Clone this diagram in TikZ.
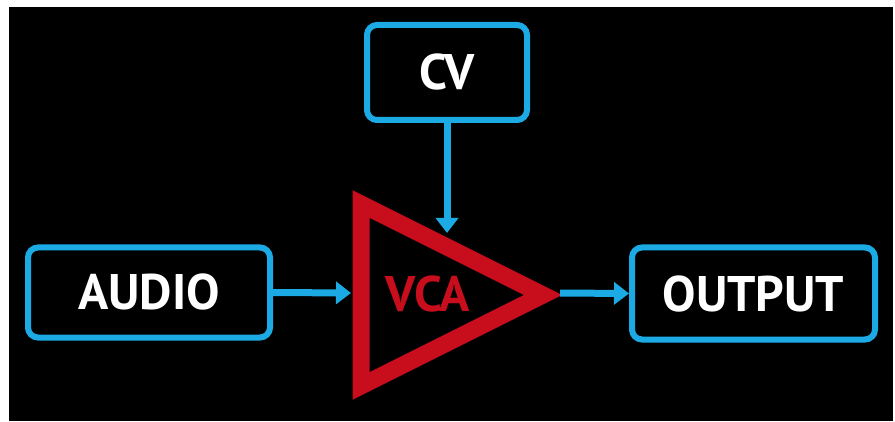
\documentclass[tikz,border=0pt]{standalone}
\usepackage{fontspec}
\usetikzlibrary{arrows.meta}
\newfontfamily\blockfont{PT Sans}

\definecolor{boxBlue}{RGB}{27,170,228}
\definecolor{vcaRed}{RGB}{200,14,28}

\tikzset{
  block/.style={draw=boxBlue,line width=6pt,rounded corners=10pt,fill=black,
    text=white,font=\blockfont\bfseries\fontsize{50}{50}\selectfont,inner sep=0pt},
  signal/.style={draw=boxBlue,line width=7pt,-{Triangle[length=15pt,width=22pt]}}
}

\begin{document}
\begin{tikzpicture}[x=1pt,y=1pt]
\path[use as bounding box,fill=white] (0,0) rectangle (895,421);
\path[fill=black] (9,0) rectangle (893,414);

% blocks
\node[block,minimum width=160pt,minimum height=95pt] (cv) at (447,348.5) {CV};
\node[block,minimum width=242pt,minimum height=90pt] (audio) at (149,128.5) {AUDIO};
\node[block,minimum width=243pt,minimum height=92pt] (output) at (753.5,127.5) {OUTPUT};

% amplifier
\coordinate (vcaTop) at (361,217);
\coordinate (vcaBot) at (361,35);
\coordinate (vcaTip) at (543,126);
\path[draw=vcaRed,line width=17pt,line join=miter] (vcaTop) -- (vcaBot) -- (vcaTip) -- cycle;
\node[text=vcaRed,font=\blockfont\bfseries\fontsize{50}{50}\selectfont,inner sep=0pt] (vca) at (428,127) {VCA};

\coordinate (vcaIn) at (351,128);
\coordinate (vcaCv) at (447,188);
\coordinate (vcaOut) at (560,128);

% signal flow
\draw[signal] (audio.east) -- (vcaIn);
\draw[signal] (cv.south) -- (vcaCv);
\draw[signal] (vcaOut) -- (output.west);
\end{tikzpicture}
\end{document}
